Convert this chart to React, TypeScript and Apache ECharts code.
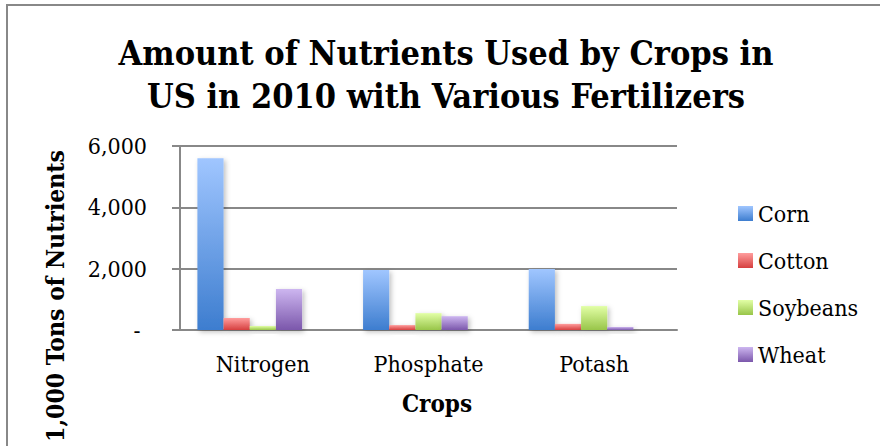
import React, { useEffect, useRef } from "react";
import * as echarts from "echarts";

const categories = ["Nitrogen", "Phosphate", "Potash"];
const seriesNames = ["Corn", "Cotton", "Soybeans", "Wheat"];
const corn = [5600, 1960, 1990];
const cotton = [390, 160, 200];
const soybeans = [130, 550, 780];
const wheat = [1340, 450, 100];
const yTicks = { min: 0, max: 6000, interval: 2000 };

const gradients: [string, string][] = [
  ["#a0c6ff", "#3d7dcf"],
  ["#ff9d9d", "#d63f3f"],
  ["#e2ffa6", "#98c549"],
  ["#cdb6f0", "#7b57ab"],
];

const FONT = "'DejaVu Serif Condensed', 'DejaVu Serif'";

export default function App() {
  const ref = useRef<HTMLDivElement>(null);
  useEffect(() => {
    if (!ref.current) return;
    const chart = echarts.init(ref.current, null, { renderer: "svg" });
    const values = [corn, cotton, soybeans, wheat];
    const series: any[] = values.map((v, i) => ({
      name: seriesNames[i],
      type: "bar",
      data: v,
      barGap: "0%",
      barCategoryGap: "21%",
      itemStyle: {
        color: {
          type: "linear",
          x: 0,
          y: 0,
          x2: 0,
          y2: 1,
          colorStops: [
            { offset: 0, color: gradients[i][0] },
            { offset: 1, color: gradients[i][1] },
          ],
        },
        shadowBlur: 5,
        shadowColor: "rgba(0,0,0,0.25)",
        shadowOffsetX: 2,
        shadowOffsetY: 2,
      },
    }));
    // empty slot that Excel leaves in each cluster
    series.push({
      name: "",
      type: "bar",
      data: categories.map(() => null),
      barGap: "0%",
      barCategoryGap: "21%",
    });
    chart.setOption({
      animation: false,
      backgroundColor: "#ffffff",
      textStyle: { fontFamily: FONT },
      title: {
        text: "Amount of Nutrients Used by Crops in\nUS in 2010 with Various Fertilizers",
        left: 441,
        textAlign: "center",
        top: 26,
        textStyle: {
          fontFamily: FONT,
          fontWeight: "bold",
          fontSize: 34,
          lineHeight: 43,
          color: "#000",
        },
      },
      legend: {
        data: seriesNames,
        orient: "vertical",
        left: 733,
        top: 197,
        itemWidth: 15,
        itemHeight: 15,
        itemGap: 24,
        icon: "rect",
        itemStyle: { shadowBlur: 0, shadowOffsetX: 0, shadowOffsetY: 0 },
        textStyle: { fontFamily: FONT, fontSize: 23, color: "#000", lineHeight: 23 },
      },
      grid: { left: 180, right: 203, top: 146, bottom: 116 },
      xAxis: {
        type: "category",
        data: categories,
        axisLine: { lineStyle: { color: "#888", width: 2 } },
        axisTick: { show: false },
        axisLabel: { fontFamily: FONT, fontSize: 23, color: "#000", margin: 22 },
      },
      yAxis: {
        type: "value",
        min: yTicks.min,
        max: yTicks.max,
        interval: yTicks.interval,
        axisLine: { show: true, lineStyle: { color: "#888", width: 2 } },
        axisTick: { show: true, length: 8, lineStyle: { color: "#888", width: 2 } },
        splitLine: { lineStyle: { color: "#888", width: 2 } },
        axisLabel: {
          fontFamily: FONT,
          fontSize: 23,
          color: "#000",
          margin: 33,
          formatter: (v: number) => (v === 0 ? "- " : v.toLocaleString("en-US")),
        },
      },
      graphic: [
        {
          type: "rect",
          shape: { x: 7, y: 5, width: 900, height: 500 },
          style: { fill: "none", stroke: "#888", lineWidth: 2 },
          silent: true,
        },
        {
          type: "text",
          x: 55,
          y: 296,
          rotation: Math.PI / 2,
          style: {
            text: "1,000 Tons of Nutrients",
            fontFamily: FONT,
            fontWeight: "bold",
            fontSize: 24.5,
            fill: "#000",
            textAlign: "center",
            textVerticalAlign: "middle",
          },
        },
        {
          type: "text",
          x: 437,
          y: 403,
          style: {
            text: "Crops",
            fontFamily: FONT,
            fontWeight: "bold",
            fontSize: 24,
            fill: "#000",
            textAlign: "center",
            textVerticalAlign: "middle",
          },
        },
      ],
      series,
    });
    return () => chart.dispose();
  }, []);
  return (
    <div
      ref={ref}
      style={{ position: "fixed", left: 0, top: 0, width: 880, height: 446 }}
    />
  );
}
